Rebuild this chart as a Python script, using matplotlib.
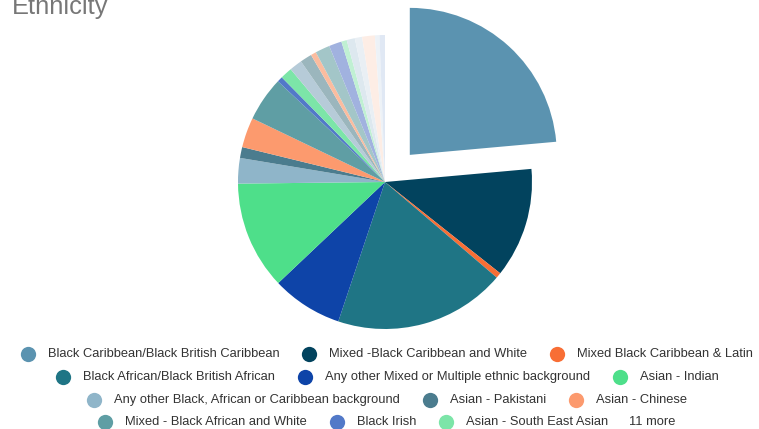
import matplotlib
matplotlib.use("Agg")
import matplotlib.pyplot as plt

W, H, DPI = 759, 429, 100

# Ethnicity breakdown (percent of total), clockwise from 12 o'clock
shares = [23.6, 12.1, 0.6, 18.9, 7.8, 11.9, 2.8, 1.2, 3.3, 4.9, 0.6, 1.3,
          1.4, 1.3, 0.6, 1.6, 1.4, 0.6, 0.9, 0.8, 1.4, 0.5, 0.6]

legend_labels = [
    "Black Caribbean/Black British Caribbean",
    "Mixed -Black Caribbean and White",
    "Mixed Black Caribbean & Latin",
    "Black African/Black British African",
    "Any other Mixed or Multiple ethnic background",
    "Asian - Indian",
    "Any other Black, African or Caribbean background",
    "Asian - Pakistani",
    "Asian - Chinese",
    "Mixed - Black African and White",
    "Black Irish",
    "Asian - South East Asian",
]

colors = ["#5b93b0", "#02435e", "#f86e35", "#1f7585", "#0e44a8", "#4edf8a",
          "#8fb5c9", "#4b7c8e", "#fc9a6e", "#5f9ea4", "#5279c8", "#7ce5a8",
          "#b6cbd8", "#9bb6bd", "#fbbc9f", "#a3c6c8", "#a1b2df", "#c0f0d3",
          "#dde8ef", "#e9eff4", "#fdede5", "#edf2f7", "#e0e8f4"]

legend_rows = [[0, 1, 2], [3, 4, 5], [6, 7, 8], [9, 10, 11]]

plt.rcParams["font.family"] = ["Liberation Sans", "DejaVu Sans"]

fig = plt.figure(figsize=(W / DPI, H / DPI), dpi=DPI)
ax = fig.add_axes([0, 0, 1, 1])

# pie in pixel-like data units (y measured upward); explode is absolute
cx, cy, r = 385, H - 182, 147
explode = [0.25 * r] + [0] * (len(shares) - 1)
ax.pie(shares, colors=colors, startangle=90, counterclock=False,
       explode=explode, center=(cx, cy), radius=r,
       wedgeprops=dict(linewidth=0))
ax.set_xlim(0, W)
ax.set_ylim(0, H)
ax.set_aspect("equal")
ax.axis("off")

# title, partly running off the top edge
ax.text(12, H - 14, "Ethnicity", fontsize=18.3, color="#777777",
        ha="left", va="baseline")

# centred legend rows
fs = 9.3
text_col = "#333333"
row_y = [H - 354, H - 377, H - 400, H - 422]
mark_to_text = 20
item_gap = 30
more_gap = 21
row_centre = 387

fig.canvas.draw()
renderer = fig.canvas.get_renderer()

extra = len(shares) - len(legend_labels)
for ri, row in enumerate(legend_rows):
    y = row_y[ri]
    items = []
    for idx in row:
        t = ax.text(0, y, legend_labels[idx], fontsize=fs, color=text_col,
                    ha="left", va="center")
        w = t.get_window_extent(renderer).width
        items.append((idx, t, w))
    more = None
    if ri == len(legend_rows) - 1 and extra > 0:
        more = ax.text(0, y, f"{extra} more", fontsize=fs, color=text_col,
                       ha="left", va="center")
        more_w = more.get_window_extent(renderer).width
    total = 7
    for k, (_, _, w) in enumerate(items):
        total += mark_to_text + w
        if k < len(items) - 1:
            total += item_gap
    if more is not None:
        total += more_gap + more_w
    x = row_centre - total / 2 + 7
    for k, (idx, t, w) in enumerate(items):
        ax.plot([x], [y], marker="o", markersize=11, color=colors[idx],
                markeredgewidth=0, linestyle="none")
        t.set_x(x + mark_to_text)
        x = x + mark_to_text + w + item_gap
    if more is not None:
        more.set_x(x - item_gap + more_gap)

fig.savefig("out.png", dpi=DPI)
